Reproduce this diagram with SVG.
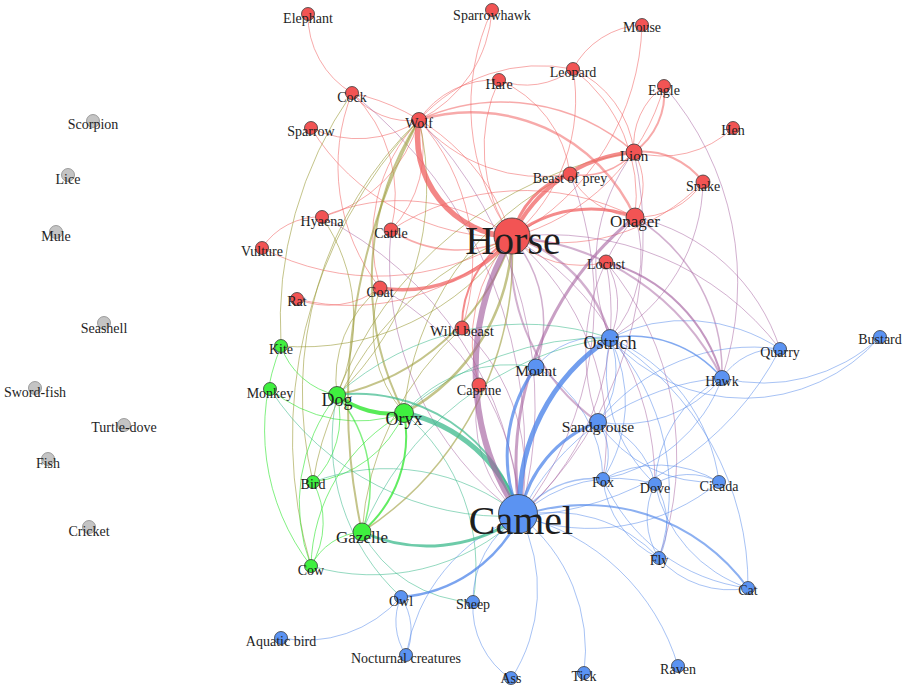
<svg xmlns="http://www.w3.org/2000/svg" width="909" height="687" viewBox="0 0 909 687">
<style>
.e{fill:none;stroke-linecap:round}
.rr{stroke:#f06464;stroke-opacity:.55;stroke-width:1}
.rb{stroke:#a5619f;stroke-opacity:.5;stroke-width:1}
.rg{stroke:#9c9c3c;stroke-opacity:.6;stroke-width:1}
.gg{stroke:#2ee62e;stroke-opacity:.6;stroke-width:1}
.gb{stroke:#3cb98c;stroke-opacity:.55;stroke-width:1}
.bb{stroke:#4f86ea;stroke-opacity:.5;stroke-width:1}
.n circle{stroke:#3a3a3a;stroke-width:.8}
.r circle{fill:#f25454}
.b circle{fill:#5b93f2}
.g circle{fill:#3ff03f}
.k circle{fill:#c4c4c4;stroke:#8a8a8a}
text{font-family:"Liberation Serif","DejaVu Serif",serif;font-size:14px;fill:#1e1e1e;text-anchor:middle}
.m{font-size:17px}
.big{font-size:40px}
</style>
<rect width="909" height="687" fill="#ffffff"/>
<g id="edges" class="e">
<path class="rr" d="M352,93 A90,90 0 0 1 308,14"/>
<path class="rr" d="M512,237 A228,228 0 0 1 492,10"/>
<path class="rr" d="M492,10 A132,132 0 0 1 419,120"/>
<path class="rr" d="M573,69 A82,82 0 0 1 642,25"/>
<path class="rr" d="M642,25 A249,249 0 0 1 512,237"/>
<path class="rr" d="M573,69 A75,75 0 0 1 499,80"/>
<path class="rr" d="M419,120 A162,162 0 0 1 573,69"/>
<path class="rr" d="M419,120 A90,90 0 0 1 499,80"/>
<path class="rr" d="M512,237 A158,158 0 0 1 499,80"/>
<path class="rr" d="M573,69 A179,179 0 0 1 512,237"/>
<path class="rr" d="M573,69 A103,103 0 0 1 634,152"/>
<path class="rr" d="M573,69 A160,160 0 0 1 635,217"/>
<path class="rr" d="M664,86 A72,72 0 0 1 634,152" style="stroke-width:2"/>
<path class="rr" d="M634,152 A72,72 0 0 1 664,86"/>
<path class="rr" d="M733,128 A102,102 0 0 1 634,152"/>
<path class="rr" d="M634,152 A75,75 0 0 1 703,182" style="stroke-width:2"/>
<path class="rr" d="M634,152 A65,65 0 0 1 635,217"/>
<path class="rr" d="M634,152 A68,68 0 0 1 570,174" style="stroke-width:1.5"/>
<path class="rr" d="M419,120 A180,180 0 0 1 635,217" style="stroke-width:2.5"/>
<path class="rr" d="M352,93 A72,72 0 0 0 419,120"/>
<path class="rr" d="M352,93 A215,215 0 0 1 512,237"/>
<path class="rr" d="M352,93 A142,142 0 0 1 391,230"/>
<path class="rr" d="M352,93 A197,197 0 0 0 380,288"/>
<path class="rr" d="M311,128 A229,229 0 0 0 512,237"/>
<path class="rr" d="M311,128 A108,108 0 0 0 419,120"/>
<path class="rr" d="M419,120 A137,137 0 0 1 322,217"/>
<path class="rr" d="M419,120 A114,114 0 0 1 391,230"/>
<path class="rr" d="M419,120 A172,172 0 0 0 380,288"/>
<path class="rr" d="M419,120 A212,212 0 0 1 462,328"/>
<path class="rr" d="M322,217 A191,191 0 0 1 512,237"/>
<path class="rr" d="M262,248 A250,250 0 0 0 512,237"/>
<path class="rr" d="M262,248 A68,68 0 0 1 322,217"/>
<path class="rr" d="M297,299 A224,224 0 0 0 512,237"/>
<path class="rr" d="M391,230 A244,244 0 0 1 635,217"/>
<path class="rr" d="M606,262 A97,97 0 0 1 512,237"/>
<path class="rr" d="M479,385 A152,152 0 0 1 512,237"/>
<path class="rr" d="M570,174 A78,78 0 0 0 635,217"/>
<path class="rr" d="M703,182 A199,199 0 0 1 512,237"/>
<path class="rr" d="M703,182 A77,77 0 0 1 635,217"/>
<path class="rr" d="M664,86 A214,214 0 0 1 512,237"/>
<path class="rr" d="M570,174 A160,160 0 0 1 419,120"/>
<path class="rr" d="M634,152 A200,200 0 0 0 419,120" style="stroke-width:1.5"/>
<path class="rr" d="M499,80 A118,118 0 0 1 570,174"/>
<path class="rr" d="M297,299 A84,84 0 0 0 380,288"/>
<path class="rg" d="M352,93 A400,400 0 0 0 281,346"/>
<path class="rg" d="M322,217 A179,179 0 0 1 337,395"/>
<path class="rg" d="M281,346 A255,255 0 0 0 512,237"/>
<path class="rg" d="M313,482 A316,316 0 0 1 512,237"/>
<path class="rg" d="M311,566 A459,459 0 0 1 419,120"/>
<path class="rg" d="M404,413 A127,127 0 0 1 380,288"/>
<path class="rg" d="M337,395 A115,115 0 0 1 380,288"/>
<path class="rg" d="M313,482 A377,377 0 0 1 419,120"/>
<path class="rg" d="M404,413 A291,291 0 0 1 570,174"/>
<path class="rg" d="M337,395 A384,384 0 0 1 634,152"/>
<path class="rg" d="M362,532 A300,300 0 0 1 462,328"/>
<path class="rg" d="M419,120 A287,287 0 0 1 337,395"/>
<path class="rb" d="M635,217 A196,196 0 0 1 780,349"/>
<path class="rb" d="M512,237 A290,290 0 0 1 780,349"/>
<path class="rb" d="M635,217 A124,124 0 0 1 610,338"/>
<path class="rb" d="M635,217 A208,208 0 0 0 598,422"/>
<path class="rb" d="M606,262 A268,268 0 0 1 520,516"/>
<path class="rb" d="M570,174 A346,346 0 0 1 520,516"/>
<path class="rb" d="M380,288 A268,268 0 0 1 520,516"/>
<path class="rb" d="M462,328 A197,197 0 0 1 520,516"/>
<path class="rb" d="M479,385 A137,137 0 0 0 520,516"/>
<path class="rb" d="M352,93 A455,455 0 0 1 520,516"/>
<path class="rb" d="M419,120 A409,409 0 0 1 520,516"/>
<path class="rb" d="M664,86 A298,298 0 0 1 722,378"/>
<path class="rb" d="M634,152 A188,188 0 0 0 610,338"/>
<path class="rb" d="M634,152 A381,381 0 0 1 520,516"/>
<path class="rb" d="M703,182 A182,182 0 0 1 610,338"/>
<path class="rb" d="M322,217 A359,359 0 0 1 520,516"/>
<path class="rb" d="M391,230 A314,314 0 0 0 520,516"/>
<path class="rb" d="M512,237 A259,259 0 0 1 603,479"/>
<path class="rb" d="M512,237 A285,285 0 0 1 655,484"/>
<path class="rb" d="M606,262 A301,301 0 0 1 659,558"/>
<path class="rb" d="M606,262 A80,80 0 0 1 610,338"/>
<path class="rb" d="M635,217 A183,183 0 0 1 722,378" style="stroke-width:1.5"/>
<path class="rb" d="M512,237 A132,132 0 0 1 536,367" style="stroke-width:1.5"/>
<path class="gg" d="M281,346 A74,74 0 0 0 337,395"/>
<path class="gg" d="M270,389 A136,136 0 0 0 404,413"/>
<path class="gg" d="M404,413 A179,179 0 0 0 311,566"/>
<path class="gg" d="M362,532 A61,61 0 0 0 311,566"/>
<path class="gg" d="M337,395 A90,90 0 0 1 313,482"/>
<path class="gg" d="M337,395 A173,173 0 0 0 311,566"/>
<path class="gg" d="M313,482 A84,84 0 0 1 311,566"/>
<path class="gg" d="M281,346 A222,222 0 0 0 311,566"/>
<path class="gg" d="M404,413 A114,114 0 0 1 313,482"/>
<path class="gb" d="M270,389 A280,280 0 0 0 520,516"/>
<path class="gb" d="M311,566 A215,215 0 0 0 520,516"/>
<path class="gb" d="M313,482 A210,210 0 0 1 520,516"/>
<path class="gb" d="M404,413 A300,300 0 0 1 610,338"/>
<path class="gb" d="M337,395 A279,279 0 0 1 610,338"/>
<path class="gb" d="M362,532 A315,315 0 0 1 610,338"/>
<path class="gb" d="M362,532 A131,131 0 0 0 473,602"/>
<path class="gb" d="M337,395 A212,212 0 0 0 401,597"/>
<path class="gb" d="M404,413 A201,201 0 0 1 473,602"/>
<path class="gb" d="M404,413 A140,140 0 0 1 536,367"/>
<path class="bb" d="M610,338 A170,170 0 0 1 780,349"/>
<path class="bb" d="M722,378 A170,170 0 0 0 880,337"/>
<path class="bb" d="M610,338 A180,180 0 0 0 880,337"/>
<path class="bb" d="M722,378 A65,65 0 0 1 780,349"/>
<path class="bb" d="M598,422 A196,196 0 0 1 780,349"/>
<path class="bb" d="M722,378 A132,132 0 0 1 598,422"/>
<path class="bb" d="M722,378 A156,156 0 0 1 603,479"/>
<path class="bb" d="M722,378 A125,125 0 0 0 655,484"/>
<path class="bb" d="M722,378 A245,245 0 0 0 520,516"/>
<path class="bb" d="M610,338 A85,85 0 0 1 598,422"/>
<path class="bb" d="M610,338 A141,141 0 0 1 603,479"/>
<path class="bb" d="M610,338 A153,153 0 0 0 655,484"/>
<path class="bb" d="M610,338 A225,225 0 0 1 659,558"/>
<path class="bb" d="M610,338 A181,181 0 0 1 719,482"/>
<path class="bb" d="M536,367 A80,80 0 0 1 610,338"/>
<path class="bb" d="M655,484 A139,139 0 0 0 520,516"/>
<path class="bb" d="M719,482 A202,202 0 0 1 520,516"/>
<path class="bb" d="M719,482 A116,116 0 0 0 603,479"/>
<path class="bb" d="M659,558 A145,145 0 0 0 520,516"/>
<path class="bb" d="M748,588 A140,140 0 0 1 655,484"/>
<path class="bb" d="M748,588 A94,94 0 0 1 659,558"/>
<path class="bb" d="M748,588 A181,181 0 0 1 603,479"/>
<path class="bb" d="M655,484 A74,74 0 0 0 659,558"/>
<path class="bb" d="M655,484 A74,74 0 0 1 659,558"/>
<path class="bb" d="M473,602 A98,98 0 0 1 520,516"/>
<path class="bb" d="M473,602 A86,86 0 0 0 511,679"/>
<path class="bb" d="M511,679 A163,163 0 0 0 520,516"/>
<path class="bb" d="M584,673 A170,170 0 0 0 520,516"/>
<path class="bb" d="M678,666 A218,218 0 0 0 520,516"/>
<path class="bb" d="M281,638 A127,127 0 0 0 401,597"/>
<path class="bb" d="M401,597 A60,60 0 0 0 406,655"/>
<path class="bb" d="M401,597 A60,60 0 0 1 406,655"/>
<path class="bb" d="M406,655 A180,180 0 0 1 520,516"/>
<path class="bb" d="M598,422 A57,57 0 0 1 603,479"/>
<path class="bb" d="M598,422 A84,84 0 0 1 655,484"/>
<path class="bb" d="M598,422 A135,135 0 0 0 719,482"/>
<path class="bb" d="M603,479 A97,97 0 0 0 659,558"/>
<path class="bb" d="M536,367 A131,131 0 0 1 603,479"/>
<path class="bb" d="M520,516 A309,309 0 0 0 780,349"/>
<path class="bb" d="M719,482 A64,64 0 0 0 655,484"/>
<path class="bb" d="M610,338 A290,290 0 0 1 748,588"/>
<path class="gg" d="M337,395 A139,139 0 0 1 362,532" style="stroke-width:1.5"/>
<path class="gg" d="M404,413 A126,126 0 0 1 362,532" style="stroke-width:2;stroke-opacity:.75"/>
<path class="rg" d="M512,237 A331,331 0 0 1 362,532" style="stroke-width:1.5"/>
<path class="rg" d="M419,120 A600,600 0 0 0 362,532" style="stroke-width:2"/>
<path class="rg" d="M419,120 A293,293 0 0 0 404,413" style="stroke-width:2"/>
<path class="rg" d="M512,237 A236,236 0 0 1 337,395" style="stroke-width:2"/>
<path class="rg" d="M512,237 A206,206 0 0 1 404,413" style="stroke-width:2.5"/>
<path class="rb" d="M512,237 A204,204 0 0 0 598,422" style="stroke-width:2"/>
<path class="rb" d="M606,262 A164,164 0 0 1 722,378" style="stroke-width:2;stroke-opacity:.65"/>
<path class="rb" d="M512,237 A253,253 0 0 1 722,378" style="stroke-width:2"/>
<path class="rb" d="M512,237 A141,141 0 0 1 610,338" style="stroke-width:2.5"/>
<path class="rb" d="M635,217 A320,320 0 0 0 520,516" style="stroke-width:3;stroke-opacity:.6"/>
<path class="rr" d="M462,328 A104,104 0 0 1 512,237" style="stroke-width:2;stroke-opacity:.75"/>
<path class="rr" d="M391,230 A121,121 0 0 0 512,237" style="stroke-width:1.5"/>
<path class="rr" d="M512,237 A86,86 0 0 1 570,174" style="stroke-width:3;stroke-opacity:.75"/>
<path class="rr" d="M512,237 A125,125 0 0 1 635,217" style="stroke-width:3;stroke-opacity:.75"/>
<path class="rr" d="M512,237 A149,149 0 0 1 634,152" style="stroke-width:4;stroke-opacity:.75"/>
<path class="rr" d="M380,288 A141,141 0 0 0 512,237" style="stroke-width:3.5;stroke-opacity:.75"/>
<path class="rr" d="M419,120 A100,100 0 0 0 512,237" style="stroke-width:5.5;stroke-opacity:.78"/>
<path class="gb" d="M337,395 A170,170 0 0 1 520,516" style="stroke-width:2;stroke-opacity:.7"/>
<path class="gb" d="M362,532 A159,159 0 0 0 520,516" style="stroke-width:3;stroke-opacity:.75"/>
<path class="gb" d="M404,413 A155,155 0 0 1 520,516" style="stroke-width:5;stroke-opacity:.75"/>
<path class="gg" d="M337,395 A90,90 0 0 0 404,413" style="stroke-width:4;stroke-opacity:.8"/>
<path class="rb" d="M520,516 A262,262 0 0 1 512,237" style="stroke-width:6;stroke-opacity:.65"/>
<path class="bb" d="M610,338 A119,119 0 0 1 722,378" style="stroke-width:1.5;stroke-opacity:.7"/>
<path class="bb" d="M603,479 A91,91 0 0 0 520,516" style="stroke-width:1.5"/>
<path class="bb" d="M748,588 A200,200 0 0 0 520,516" style="stroke-width:2;stroke-opacity:.65"/>
<path class="bb" d="M401,597 A144,144 0 0 0 520,516" style="stroke-width:2.5;stroke-opacity:.75"/>
<path class="bb" d="M598,422 A122,122 0 0 0 520,516" style="stroke-width:3;stroke-opacity:.75"/>
<path class="bb" d="M536,367 A150,150 0 0 0 520,516" style="stroke-width:3;stroke-opacity:.75"/>
<path class="bb" d="M610,338 A199,199 0 0 0 520,516" style="stroke-width:5;stroke-opacity:.8"/>
</g>
<g id="nodes">
<g id="n-elephant" class="n r"><circle cx="308" cy="14" r="6.5"/><text x="308" y="23">Elephant</text></g>
<g id="n-sparrowhawk" class="n r"><circle cx="492" cy="10" r="6.5"/><text x="492" y="20">Sparrowhawk</text></g>
<g id="n-mouse" class="n r"><circle cx="642" cy="25" r="6.5"/><text x="642" y="32">Mouse</text></g>
<g id="n-leopard" class="n r"><circle cx="573" cy="69" r="6.5"/><text x="573" y="77">Leopard</text></g>
<g id="n-hare" class="n r"><circle cx="499" cy="80" r="6.5"/><text x="499" y="89">Hare</text></g>
<g id="n-eagle" class="n r"><circle cx="664" cy="86" r="6.5"/><text x="664" y="95">Eagle</text></g>
<g id="n-cock" class="n r"><circle cx="352" cy="93" r="6.5"/><text x="352" y="102">Cock</text></g>
<g id="n-hen" class="n r"><circle cx="733" cy="128" r="6.5"/><text x="733" y="135">Hen</text></g>
<g id="n-sparrow" class="n r"><circle cx="311" cy="128" r="6.5"/><text x="311" y="136">Sparrow</text></g>
<g id="n-wolf" class="n r"><circle cx="419" cy="120" r="7.5"/><text x="419" y="128">Wolf</text></g>
<g id="n-lion" class="n r"><circle cx="634" cy="152" r="8"/><text x="634" y="161" style="font-size:15px">Lion</text></g>
<g id="n-beastofprey" class="n r"><circle cx="570" cy="174" r="7"/><text x="570" y="183">Beast of prey</text></g>
<g id="n-snake" class="n r"><circle cx="703" cy="182" r="7"/><text x="703" y="191">Snake</text></g>
<g id="n-hyaena" class="n r"><circle cx="322" cy="217" r="6.5"/><text x="322" y="226">Hyaena</text></g>
<g id="n-cattle" class="n r"><circle cx="391" cy="230" r="7"/><text x="391" y="238">Cattle</text></g>
<g id="n-onager" class="n r"><circle cx="635" cy="217" r="9"/><text x="635" y="227" class="m">Onager</text></g>
<g id="n-vulture" class="n r"><circle cx="262" cy="248" r="6.5"/><text x="262" y="256">Vulture</text></g>
<g id="n-locust" class="n r"><circle cx="606" cy="262" r="7"/><text x="606" y="269">Locust</text></g>
<g id="n-goat" class="n r"><circle cx="380" cy="288" r="7"/><text x="380" y="297">Goat</text></g>
<g id="n-rat" class="n r"><circle cx="297" cy="299" r="6.5"/><text x="297" y="306">Rat</text></g>
<g id="n-wildbeast" class="n r"><circle cx="462" cy="328" r="7"/><text x="462" y="336" style="font-size:15px">Wild beast</text></g>
<g id="n-caprine" class="n r"><circle cx="479" cy="385" r="7"/><text x="479" y="395">Caprine</text></g>
<g id="n-horse" class="n r"><circle cx="512" cy="236" r="18"/><text x="513" y="254" class="big">Horse</text></g>
<g id="n-kite" class="n g"><circle cx="281" cy="346" r="6.5"/><text x="281" y="354">Kite</text></g>
<g id="n-monkey" class="n g"><circle cx="270" cy="389" r="6.5"/><text x="270" y="398">Monkey</text></g>
<g id="n-dog" class="n g"><circle cx="337" cy="395" r="8.5"/><text x="337" y="406" style="font-size:18px">Dog</text></g>
<g id="n-oryx" class="n g"><circle cx="404" cy="413" r="9.5"/><text x="404" y="425" style="font-size:18px">Oryx</text></g>
<g id="n-bird" class="n g"><circle cx="313" cy="482" r="6.5"/><text x="313" y="489">Bird</text></g>
<g id="n-gazelle" class="n g"><circle cx="362" cy="532" r="9"/><text x="362" y="543" class="m">Gazelle</text></g>
<g id="n-cow" class="n g"><circle cx="311" cy="566" r="6.5"/><text x="311" y="575">Cow</text></g>
<g id="n-ostrich" class="n b"><circle cx="610" cy="338" r="8.5"/><text x="610" y="349" style="font-size:18px">Ostrich</text></g>
<g id="n-quarry" class="n b"><circle cx="780" cy="349" r="6.5"/><text x="780" y="357">Quarry</text></g>
<g id="n-bustard" class="n b"><circle cx="880" cy="337" r="6.5"/><text x="880" y="344">Bustard</text></g>
<g id="n-mount" class="n b"><circle cx="536" cy="367" r="8"/><text x="536" y="376" style="font-size:15.5px">Mount</text></g>
<g id="n-hawk" class="n b"><circle cx="722" cy="378" r="7.5"/><text x="722" y="386">Hawk</text></g>
<g id="n-sandgrouse" class="n b"><circle cx="598" cy="422" r="8.5"/><text x="598" y="432" style="font-size:15.5px">Sandgrouse</text></g>
<g id="n-fox" class="n b"><circle cx="603" cy="479" r="6.5"/><text x="603" y="487">Fox</text></g>
<g id="n-dove" class="n b"><circle cx="655" cy="484" r="6.5"/><text x="655" y="493">Dove</text></g>
<g id="n-cicada" class="n b"><circle cx="719" cy="482" r="6.5"/><text x="719" y="491">Cicada</text></g>
<g id="n-fly" class="n b"><circle cx="659" cy="558" r="6.5"/><text x="659" y="565">Fly</text></g>
<g id="n-cat" class="n b"><circle cx="748" cy="588" r="6.5"/><text x="748" y="595">Cat</text></g>
<g id="n-owl" class="n b"><circle cx="401" cy="597" r="6.5"/><text x="401" y="606">Owl</text></g>
<g id="n-sheep" class="n b"><circle cx="473" cy="602" r="6.5"/><text x="473" y="609">Sheep</text></g>
<g id="n-aquaticbird" class="n b"><circle cx="281" cy="638" r="6.5"/><text x="281" y="646">Aquatic bird</text></g>
<g id="n-nocturnal" class="n b"><circle cx="406" cy="655" r="6.5"/><text x="406" y="663">Nocturnal creatures</text></g>
<g id="n-raven" class="n b"><circle cx="678" cy="666" r="6.5"/><text x="678" y="674">Raven</text></g>
<g id="n-ass" class="n b"><circle cx="511" cy="678" r="6.5"/><text x="511" y="683">Ass</text></g>
<g id="n-tick" class="n b"><circle cx="584" cy="673" r="6.5"/><text x="584" y="681">Tick</text></g>
<g id="n-camel" class="n b"><circle cx="518" cy="514" r="19.5"/><text x="521" y="534" class="big">Camel</text></g>
<g id="n-scorpion" class="n k"><circle cx="93" cy="121" r="6.5"/><text x="93" y="129">Scorpion</text></g>
<g id="n-lice" class="n k"><circle cx="68" cy="175" r="6.5"/><text x="68" y="184">Lice</text></g>
<g id="n-mule" class="n k"><circle cx="56" cy="232" r="6.5"/><text x="56" y="241">Mule</text></g>
<g id="n-seashell" class="n k"><circle cx="104" cy="323" r="6.5"/><text x="104" y="333">Seashell</text></g>
<g id="n-swordfish" class="n k"><circle cx="35" cy="388" r="6.5"/><text x="35" y="397">Sword-fish</text></g>
<g id="n-turtledove" class="n k"><circle cx="124" cy="425" r="6.5"/><text x="124" y="432">Turtle-dove</text></g>
<g id="n-fish" class="n k"><circle cx="48" cy="459" r="6.5"/><text x="48" y="468">Fish</text></g>
<g id="n-cricket" class="n k"><circle cx="89" cy="527" r="6.5"/><text x="89" y="536">Cricket</text></g>
</g>
</svg>
